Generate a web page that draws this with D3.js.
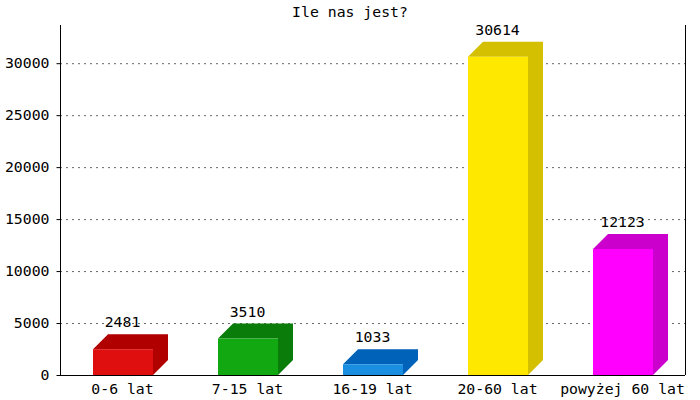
<!DOCTYPE html>
<html><head><meta charset="utf-8">
<script src="https://cdn.jsdelivr.net/npm/d3@7"></script>
<style>
body{margin:0;background:#fff;}
text{font-family:"DejaVu Sans Mono","Liberation Mono",monospace;font-size:14.8px;fill:#000;}
</style></head>
<body>
<svg id="c" width="700" height="400"></svg>
<script>
const title = "Ile nas jest?";
const categories = ["0-6 lat","7-15 lat","16-19 lat","20-60 lat","powyżej 60 lat"];
const values = [2481, 3510, 1033, 30614, 12123];
const frontColors = ["#e00f0f","#12a812","#1a8ee0","#ffe800","#ff00ff"];
const sideColors = ["#b00000","#0a7c0a","#0062b8","#d4c000","#cc00cc"];
const yTicks = [0,5000,10000,15000,20000,25000,30000];

const svg = d3.select("#c");
const m = {left:60, right:685, top:25, bottom:375};
const x = d3.scaleBand().domain(categories).range([m.left, m.right]);
const y = d3.scaleLinear().domain([0, d3.max(values)*1.1]).range([m.bottom, m.top]);
const fw = 60, dep = 15;

// gridlines
svg.append("g").selectAll("line").data(yTicks.filter(d=>d>0)).join("line")
  .attr("x1", m.left).attr("x2", m.right)
  .attr("y1", d=>y(d)+0.5).attr("y2", d=>y(d)+0.5)
  .attr("stroke","#666").attr("stroke-dasharray","2,4");

// bars
const data = categories.map((c,i)=>({c, v:values[i], f:frontColors[i], s:sideColors[i]}));
const g = svg.append("g");
data.forEach(d=>{
  const cx = x(d.c) + x.bandwidth()/2;
  const x0 = Math.round(cx - fw/2), x1 = x0 + fw;
  const yt = y(d.v), yb = y(0);
  g.append("polygon").attr("fill", d.s)
    .attr("points", [[x0,yt],[x0+dep,yt-dep],[x1+dep,yt-dep],[x1+dep,yb-dep],[x1,yb],[x1,yt]].map(p=>p.join(",")).join(" "));
  g.append("rect").attr("x",x0).attr("y",yt).attr("width",fw).attr("height",yb-yt).attr("fill",d.f);
  g.append("text").attr("x",cx).attr("y",yt-dep-7).attr("text-anchor","middle").text(d.v);
});

// axes
const yAxis = d3.axisLeft(y).tickValues(yTicks).tickFormat(d3.format("d")).tickSize(4).tickPadding(7);
const ya = svg.append("g").attr("transform",`translate(${m.left+0.5},0)`).call(yAxis);
ya.select(".domain").attr("d",`M0,${m.top}V${m.bottom}`).attr("stroke","#000");
ya.selectAll(".tick line").attr("stroke","#000");
ya.selectAll("text").attr("font-size",null).attr("font-family",null);

const xa = svg.append("g").attr("transform",`translate(0,${m.bottom+0.5})`)
  .call(d3.axisBottom(x).tickSize(0).tickPadding(8));
xa.select(".domain").attr("d",`M${m.left},0H${m.right}`).attr("stroke","#000");
xa.selectAll("text").attr("font-size",null).attr("font-family",null);

svg.append("line").attr("x1",m.right+0.5).attr("x2",m.right+0.5).attr("y1",m.top).attr("y2",m.bottom).attr("stroke","#000");

svg.append("text").attr("x",350).attr("y",17).attr("text-anchor","middle").text(title);
</script>
</body></html>
